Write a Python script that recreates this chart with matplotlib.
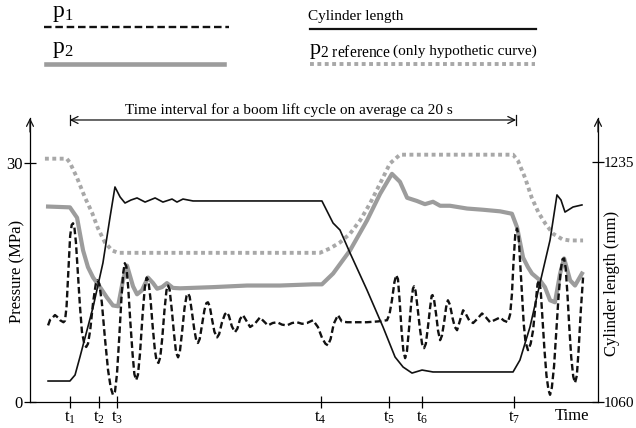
import matplotlib
matplotlib.use('Agg')
import matplotlib.pyplot as plt

plt.rcParams['font.family'] = ['Liberation Serif', 'DejaVu Serif']
plt.rcParams['mathtext.fontset'] = 'stix'

# ---------------- data (time in s, pressure in MPa, length in mm) ----------------
t_ref = [0.67, 1.65, 1.79, 2.11, 2.47, 2.78, 3.05, 3.36, 3.68, 3.95, 13.0, 13.45, 13.9,
         14.35, 14.8, 15.25, 15.7, 16.14, 16.59, 21.66, 21.88, 22.2, 22.5, 22.8, 23.1,
         23.45, 23.87, 24.2, 24.8]
p_ref = [30.5, 30.5, 30.0, 28.1, 25.6, 23.75, 21.75, 20.0, 19.0, 18.7, 18.7, 19.25, 20.0,
         21.1, 22.75, 24.9, 27.4, 29.9, 31.0, 31.0, 30.25, 28.1, 25.6, 23.75, 22.4,
         21.1, 20.4, 20.25, 20.25]

t_p2 = [0.81, 1.79, 2.11, 2.24, 2.38, 2.60, 2.83, 3.14, 3.45, 3.72,
        3.95, 4.17, 4.35, 4.62, 4.80, 5.02, 5.29, 5.52, 5.70, 5.92,
        6.14, 6.41, 6.73, 8.21, 9.73, 11.21, 12.69, 13.09, 13.59, 14.35,
        15.11, 15.70, 16.23, 16.59, 16.91, 17.35, 17.71, 18.07, 18.39, 18.83,
        19.60, 20.31, 21.08, 21.61, 21.84, 22.11, 22.33, 22.51, 22.87, 23.09,
        23.32, 23.54, 23.77, 23.95, 24.22, 24.44, 24.75]
p2 = [24.5, 24.4, 23.1, 21.1, 19.0, 16.9, 15.6, 14.4, 13.1, 12.1,
      12.0, 15.25, 17.1, 14.5, 13.5, 14.0, 15.6, 14.9, 14.2, 14.4,
      14.9, 14.3, 14.25, 14.4, 14.6, 14.6, 14.75, 14.75, 16.1, 19.0,
      22.75, 26.1, 28.6, 27.6, 25.6, 25.2, 24.8, 25.1, 24.6, 24.6,
      24.25, 24.1, 23.9, 23.6, 21.9, 18.1, 16.9, 16.1, 15.25, 14.4,
      12.75, 12.5, 16.1, 18.0, 15.25, 14.6, 16.1]

# p1 as (time, pressure) readings
p1_points = [
    (0.81, 9.6), (0.90, 10.3), (0.99, 10.5), (1.12, 10.9), (1.25, 10.6), (1.35, 10.25),
    (1.50, 10.0), (1.57, 10.2), (1.64, 12.0), (1.72, 16.5), (1.80, 20.8), (1.87, 22.2),
    (1.93, 22.4), (1.99, 21.9), (2.06, 20.0), (2.15, 16.0), (2.24, 12.0), (2.33, 8.8),
    (2.44, 7.2), (2.52, 6.9), (2.60, 7.3), (2.70, 9.0), (2.83, 12.5), (2.95, 14.8),
    (3.03, 15.25), (3.11, 14.8), (3.22, 12.5), (3.36, 8.0), (3.50, 4.0), (3.62, 1.8),
    (3.72, 0.9), (3.81, 1.3), (3.90, 3.5), (4.00, 8.0), (4.10, 13.0), (4.18, 16.2),
    (4.25, 17.4), (4.32, 17.0), (4.40, 14.5), (4.50, 10.0), (4.60, 6.0), (4.68, 3.5),
    (4.76, 2.75), (4.84, 3.4), (4.93, 6.0), (5.05, 11.0), (5.15, 14.4), (5.23, 15.6),
    (5.31, 15.2), (5.40, 13.0), (5.50, 9.5), (5.60, 6.5), (5.68, 5.1), (5.76, 4.9),
    (5.84, 5.6), (5.93, 8.0), (6.03, 11.5), (6.12, 14.0), (6.19, 14.6), (6.26, 14.1),
    (6.36, 11.5), (6.46, 8.5), (6.55, 6.2), (6.64, 5.6), (6.72, 6.3), (6.82, 8.8),
    (6.93, 11.8), (7.02, 13.3), (7.09, 13.6), (7.16, 13.2), (7.26, 11.3), (7.36, 9.2),
    (7.45, 7.8), (7.53, 7.4), (7.61, 7.9), (7.71, 9.6), (7.82, 11.5), (7.91, 12.4),
    (7.98, 12.5), (8.06, 12.0), (8.16, 10.4), (8.27, 8.8), (8.39, 8.1), (8.48, 8.5),
    (8.61, 10.0), (8.74, 11.0), (8.83, 11.25), (8.92, 10.8), (9.05, 9.5), (9.19, 8.75),
    (9.30, 9.2), (9.42, 10.4), (9.55, 10.9), (9.68, 10.3), (9.87, 9.4), (10.08, 9.8),
    (10.31, 10.6), (10.49, 10.1), (10.67, 9.6), (10.88, 9.9), (11.08, 10.0), (11.30, 9.7),
    (11.52, 9.6), (11.75, 9.9), (11.97, 10.0), (12.20, 9.8), (12.42, 9.9), (12.69, 10.25),
    (12.91, 9.4), (13.10, 8.0), (13.25, 7.3), (13.36, 7.1), (13.48, 7.9), (13.62, 9.8),
    (13.81, 10.9), (13.98, 10.1), (14.22, 10.0), (15.11, 10.0), (15.60, 10.1), (16.01, 10.25),
    (16.12, 11.0), (16.23, 12.75), (16.34, 15.0), (16.42, 15.9), (16.50, 15.4), (16.58, 12.5),
    (16.66, 9.0), (16.74, 6.5), (16.82, 5.5), (16.90, 6.3), (16.99, 9.0), (17.09, 12.3),
    (17.17, 14.2), (17.22, 14.5), (17.29, 13.9), (17.38, 11.8), (17.48, 9.3), (17.58, 7.3),
    (17.67, 6.75), (17.75, 7.3), (17.84, 9.3), (17.94, 11.8), (18.01, 13.3), (18.05, 13.4),
    (18.12, 12.8), (18.21, 11.0), (18.30, 8.9), (18.39, 7.75), (18.47, 8.3), (18.57, 10.0),
    (18.66, 11.9), (18.74, 12.75), (18.83, 12.2), (18.95, 10.5), (19.05, 9.4), (19.15, 9.0),
    (19.28, 10.2), (19.42, 11.5), (19.55, 11.0), (19.70, 10.2), (19.87, 9.9), (20.05, 10.4),
    (20.27, 11.1), (20.45, 10.6), (20.63, 10.0), (20.85, 10.3), (21.08, 10.6), (21.25, 10.2),
    (21.43, 10.0), (21.53, 11.0), (21.61, 13.5), (21.68, 17.5), (21.76, 21.0), (21.84, 21.75),
    (21.91, 20.8), (21.98, 17.5), (22.06, 13.5), (22.14, 9.8), (22.22, 7.5), (22.33, 6.5),
    (22.45, 7.3), (22.56, 9.0), (22.66, 12.0), (22.76, 14.8), (22.83, 15.25), (22.90, 14.0),
    (22.98, 10.5), (23.07, 6.5), (23.16, 3.3), (23.25, 1.5), (23.32, 0.9), (23.40, 1.8),
    (23.50, 4.5), (23.60, 8.8), (23.70, 13.2), (23.80, 16.6), (23.88, 17.9), (23.95, 18.0),
    (24.02, 16.8), (24.10, 13.5), (24.18, 9.5), (24.27, 5.6), (24.36, 3.2), (24.44, 2.4),
    (24.52, 3.3), (24.60, 6.5), (24.70, 11.5), (24.80, 15.6),
]
t_p1 = [pt[0] for pt in p1_points]
p1 = [pt[1] for pt in p1_points]

t_cyl = [0.81, 1.79, 2.02, 2.24, 2.83, 3.27, 3.59, 3.81, 4.04, 4.26,
         4.53, 4.80, 5.16, 5.61, 5.96, 6.37, 6.59, 6.86, 7.31, 13.09,
         13.59, 13.90, 14.35, 15.11, 15.83, 16.37, 16.73, 17.13, 17.58, 18.07,
         21.66, 21.97, 22.42, 22.87, 23.32, 23.63, 23.81, 23.99, 24.35, 24.75]
cyl = [1075.3, 1075.3, 1079.7, 1092.8, 1129.3, 1161.4, 1194.9, 1216.8, 1209.5, 1205.1,
       1207.3, 1208.8, 1205.8, 1208.8, 1205.8, 1208.0, 1205.8, 1208.0, 1206.6, 1206.6,
       1190.5, 1185.4, 1168.7, 1141.7, 1114.7, 1092.8, 1085.5, 1081.1, 1083.3, 1081.9,
       1081.9, 1090.6, 1114.7, 1146.8, 1178.1, 1211.0, 1207.3, 1198.5, 1202.2, 1203.7]

t_marks = [1.78, 3.10, 3.89, 13.03, 16.10, 17.60, 21.72]
t_names = ['t_1', 't_2', 't_3', 't_4', 't_5', 't_6', 't_7']
cycle_start, cycle_end = 1.78, 21.80
p_ticks = [0, 30]
len_ticks = [1060, 1235]

# ---------------- figure ----------------
W, H = 636, 428
fig = plt.figure(figsize=(W / 100, H / 100), dpi=100)
ax = fig.add_axes([30 / W, 26 / H, 568 / W, 284 / H])
ax2 = ax.twinx()

gray_ref = '#a8a8a8'
gray_p2 = '#9c9c9c'
blk = '#111111'

ax.plot(t_ref, p_ref, color=gray_ref, lw=2.8, ls=(0, (1, 0.9)), dash_capstyle='butt', zorder=1)
ax.plot(t_p2, p2, color=gray_p2, lw=3.0, solid_joinstyle='round', zorder=2)
ax.plot(t_p1, p1, color=blk, lw=1.7, ls=(0, (2.8, 1.4)), zorder=3)
ax2.plot(t_cyl, cyl, color=blk, lw=1.2)

ax.set_xlim(0, 25.47)
ax.set_ylim(0, 35.6)
ax2.set_ylim(1060, 1267.1)

for s in ['top', 'right']:
    ax.spines[s].set_visible(False)
for s in ['top', 'left', 'bottom']:
    ax2.spines[s].set_visible(False)
for a in (ax, ax2):
    for s in a.spines.values():
        s.set_linewidth(0.9)

ax.set_yticks(p_ticks)
ax.tick_params(axis='y', direction='inout', length=8, width=0.9, labelsize=12, pad=1)
ax2.set_yticks(len_ticks)
ax2.tick_params(axis='y', direction='inout', length=8, width=0.9, labelsize=11, pad=0.3)
ax.set_xticks(t_marks, labels=[r'$\mathregular{%s}$' % n for n in t_names])
ax.tick_params(axis='x', direction='inout', length=9, width=0.9, labelsize=12, pad=1)

xt = ax.get_xaxis_transform()
ax.text(24.3, -0.048, 'Time', transform=xt, ha='center', va='center', fontsize=12)

# cycle interval arrow
ax.annotate('', xy=(cycle_start, 0.993), xytext=(cycle_end, 0.993), xycoords=xt, textcoords=xt,
            arrowprops=dict(arrowstyle='<->,head_length=0.5,head_width=0.25', lw=0.9,
                            color=blk, shrinkA=0, shrinkB=0), annotation_clip=False)
for xv in (cycle_start, cycle_end):
    ax.plot([xv, xv], [0.975, 1.011], transform=xt, clip_on=False, color=blk, lw=0.9)
ax.text((cycle_start + cycle_end) / 2 - 0.2, 1.028,
        'Time interval for a boom lift cycle on average ca 20 s',
        transform=xt, ha='center', va='center', fontsize=11)

# axis labels
fig.text(17.5 / W, 1 - 271 / H, 'Pressure (MPa)', rotation=90, ha='center', va='center', fontsize=12)
fig.text(612 / W, 1 - 283 / H, 'Cylinder length (mm)', rotation=90, ha='center', va='center', fontsize=12)

# overlay for legend + spine arrows (pixel coordinates)
ov = fig.add_axes([0, 0, 1, 1])
ov.set_xlim(0, W)
ov.set_ylim(H, 0)
ov.axis('off')
ov.patch.set_visible(False)

for xs in (30, 598):
    ov.annotate('', xy=(xs, 118), xytext=(xs, 132),
                arrowprops=dict(arrowstyle='->,head_length=0.5,head_width=0.25', lw=0.9,
                                color=blk, shrinkA=0, shrinkB=0))

ov.plot([44, 229], [27, 27], color=blk, lw=1.7, ls=(0, (3.2, 1.6)))
ov.plot([46, 224], [64, 64], color=gray_p2, lw=3.3)
ov.plot([310, 536], [29, 29], color=blk, lw=1.6)
ov.plot([310, 535], [64, 64], color=gray_ref, lw=2.8, ls=(0, (1, 0.9)), dash_capstyle='butt')

ov.text(52, 17, r'$\mathregular{p_1}$', fontsize=17, va='baseline', ha='left')
ov.text(52, 53, r'$\mathregular{p_2}$', fontsize=17, va='baseline', ha='left')
ov.text(308, 20, 'Cylinder length', fontsize=11, va='baseline', ha='left')
ov.text(309, 54, r'$\mathregular{p_{2\ reference}}$', fontsize=16, va='baseline', ha='left')
ov.text(393, 55, '(only hypothetic curve)', fontsize=11, va='baseline', ha='left')

fig.savefig('out.png', dpi=100)
